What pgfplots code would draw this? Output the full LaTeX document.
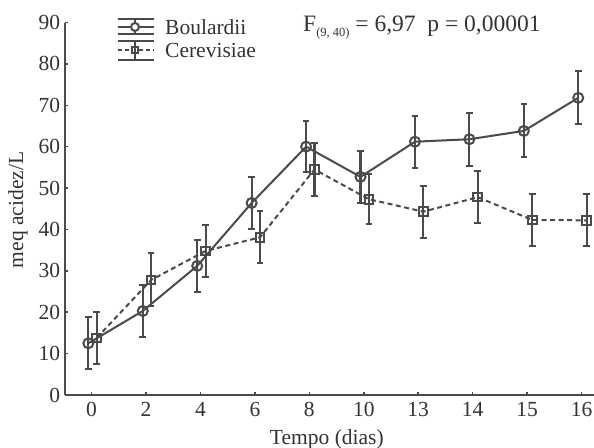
\documentclass[border=0pt]{standalone}
\usepackage{fontspec}
\setmainfont{Liberation Serif}
\usepackage{pgfplots}
\usepackage{pgfplotstable}
\pgfplotsset{compat=1.18}
\definecolor{ln}{HTML}{4A4A4A}
\definecolor{tx}{HTML}{333333}
\newcommand\fs{\fontsize{21.5bp}{25bp}\selectfont}

% dia (indice), media, desvio
\pgfplotstableread{
x     y     e
-0.06 12.5  6.3
0.94  20.3  6.3
1.94  31.2  6.3
2.94  46.4  6.3
3.94  60.0  6.1
4.94  52.7  6.3
5.94  61.2  6.3
6.94  61.8  6.4
7.94  63.8  6.4
8.94  71.8  6.4
}\boul

\pgfplotstableread{
x     y     e
0.094 13.8  6.3
1.094 27.8  6.4
2.094 34.8  6.3
3.094 38.1  6.3
4.094 54.5  6.3
5.094 47.3  6.1
6.094 44.3  6.3
7.094 47.8  6.3
8.094 42.3  6.3
9.094 42.2  6.3
}\cere

\begin{document}
\begin{tikzpicture}
\begin{axis}[
  at={(0,0)}, anchor=south west,
  scale only axis, width=529bp, height=372.5bp,
  xmin=-0.489, xmax=9.229, ymin=0, ymax=90,
  axis lines=left,
  axis line style={ln, line width=2bp, -},
  xtick={0,...,9}, xticklabels={0,2,4,6,8,10,13,14,15,16},
  ytick={0,10,...,90},
  tick align=inside, major tick length=3.5bp,
  tick style={ln, line width=1.5bp},
  tick label style={font=\fs, text=tx},
  yticklabel style={xshift=-1.3bp},
  xticklabel style={yshift=-4bp},
  /pgf/number format/assume math mode=true,
  xlabel={Tempo (dias)}, ylabel={meq acidez/L},
  label style={font=\fs, text=tx},
  xlabel style={at={(axis description cs:0.495,0)}, anchor=center, yshift=-44bp},
  ylabel style={at={(axis description cs:-0.0889,0.497)}, anchor=center},
  clip=false,
]
\addplot[ln, line width=2bp, mark=o, mark size=5bp,
  mark options={solid, line width=2bp},
  error bars/.cd, y dir=both, y explicit,
  error bar style={line width=2.2bp, solid},
  error mark options={rotate=90, mark size=3.3bp, line width=2bp}]
  table[x=x, y=y, y error=e] {\boul};
\addplot[ln, line width=2bp, dash pattern=on 5bp off 3.5bp, mark=square, mark size=4.3bp,
  mark options={solid, line width=2bp},
  error bars/.cd, y dir=both, y explicit,
  error bar style={line width=2.2bp, solid},
  error mark options={rotate=90, mark size=3.3bp, line width=2bp}]
  table[x=x, y=y, y error=e] {\cere};
\end{axis}

% legenda
\begin{scope}[ln, line width=2bp]
  \draw (52.7bp,375.5bp) -- (89.3bp,375.5bp);
  \draw (52.7bp,368bp) -- (89.3bp,368bp);
  \draw (52.7bp,360.5bp) -- (89.3bp,360.5bp);
  \draw (70bp,360.5bp) -- (70bp,375.5bp);
  \draw[fill=white] (70bp,368bp) circle (4bp);
  \draw (52.7bp,354bp) -- (89.3bp,354bp);
  \draw[dash pattern=on 4bp off 3bp] (52.7bp,345bp) -- (89.3bp,345bp);
  \draw (52.7bp,334.5bp) -- (89.3bp,334.5bp);
  \draw (70bp,334.5bp) -- (70bp,354bp);
  \draw[fill=white] (66.8bp,341.8bp) rectangle (73.2bp,348.2bp);
  \draw (70bp,341.8bp) -- (70bp,348.2bp);
\end{scope}
\node[anchor=west, inner sep=0pt, font=\fs, text=tx] at (100bp,367.5bp) {Boulardii};
\node[anchor=west, inner sep=0pt, font=\fs, text=tx] at (100bp,344.5bp) {Cerevisiae};
\node[anchor=west, inner sep=0pt, font=\fontsize{23.5bp}{27bp}\selectfont, text=tx] at (238bp,367.5bp)
  {F\raisebox{-4.5bp}{\fontsize{12.5bp}{13bp}\selectfont(9, 40)} = 6,97\ \ p = 0,00001};

\pgfresetboundingbox
\useasboundingbox (-65bp,-53bp) rectangle (529bp,395bp);
\end{tikzpicture}
\end{document}
